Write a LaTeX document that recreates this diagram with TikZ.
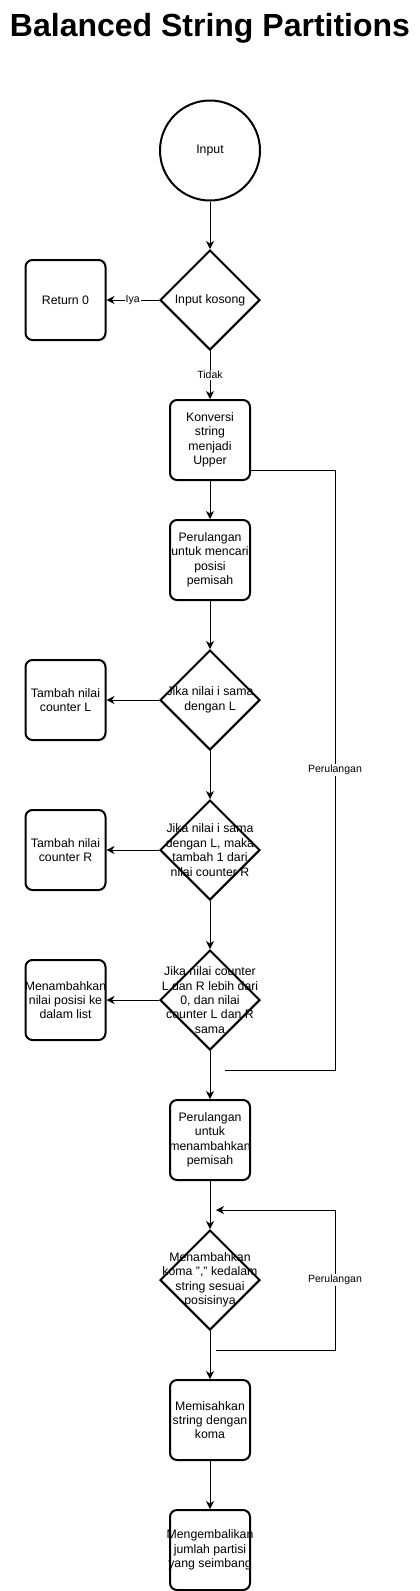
\documentclass[tikz,border=0pt]{standalone}
\usepackage{fontspec}
\setmainfont{Liberation Sans}
\usetikzlibrary{shapes.geometric,arrows.meta}
\begin{document}
\begin{tikzpicture}[x=1pt,y=-1pt,
  box/.style={draw, line width=2pt, rounded corners=7pt, minimum width=80pt, minimum height=80pt, inner sep=0pt},
  dec/.style={draw, diamond, line width=2pt, minimum width=100pt, minimum height=100pt, inner sep=0pt, aspect=1},
  term/.style={draw, circle, line width=2pt, minimum size=100pt, inner sep=0pt, font=\fontsize{12.3}{14.4}\selectfont},
  txt/.style={font=\fontsize{12.3}{14.4}\selectfont, align=center, inner sep=0pt},
  arr/.style={-{Stealth[length=8pt,width=8pt,inset=2.5pt]}, line width=1pt},
  lnk/.style={line width=1pt},
  lbl/.style={fill=white, font=\fontsize{10.5}{12}\selectfont, inner sep=1pt}
]
\useasboundingbox (0,0) rectangle (420,1591);

\node[anchor=base, font=\fontsize{32}{38}\selectfont\bfseries] (title) at (210,36) {Balanced String Partitions};

\node[term] (inp) at (210,150.5) {Input};
\node[dec, label={[txt]center:{Input kosong}}] (d1) at (210,300) {};
\node[box, label={[txt]center:{Return 0}}] (ret) at (65.5,300) {};
\node[box, label={[txt]center:{Konversi\\string\\menjadi\\Upper}}] (konv) at (210,440) {};
\node[box, label={[txt]center:{Perulangan\\untuk mencari\\posisi\\pemisah}}] (cari) at (210,560) {};
\node[dec, label={[txt]center:{Jika nilai i sama\\dengan L}}] (d2) at (210,700) {};
\node[box, label={[txt]center:{Tambah nilai\\counter L}}] (cL) at (65.5,700) {};
\node[dec, label={[txt]center:{Jika nilai i sama\\dengan L, maka\\tambah 1 dari\\nilai counter R}}] (d3) at (210,850) {};
\node[box, label={[txt]center:{Tambah nilai\\counter R}}] (cR) at (65.5,850) {};
\node[dec, label={[txt]center:{Jika nilai counter\\L dan R lebih dari\\0, dan nilai\\counter L dan R\\sama}}] (d4) at (210,1000) {};
\node[box, label={[txt]center:{Menambahkan\\nilai posisi ke\\dalam list}}] (list) at (65.5,1000) {};
\node[box, label={[txt]center:{Perulangan\\untuk\\menambahkan\\pemisah}}] (pem) at (210,1140) {};
\node[dec, label={[txt]center:{Menambahkan\\koma "," kedalam\\string sesuai\\posisinya}}] (d5) at (210,1280) {};
\node[box, label={[txt]center:{Memisahkan\\string dengan\\koma}}] (pisah) at (210,1420) {};
\node[box, label={[txt]center:{Mengembalikan\\jumlah partisi\\yang seimbang}}] (kembali) at (210,1550) {};

\draw[arr] (inp) -- (d1);
\draw[arr] (d1) -- node[lbl]{Iya} (ret);
\draw[arr] (d1) -- node[lbl]{Tidak} (konv);
\draw[arr] (konv) -- (cari);
\draw[arr] (cari) -- (d2);
\draw[arr] (d2) -- (cL);
\draw[arr] (d2) -- (d3);
\draw[arr] (d3) -- (cR);
\draw[arr] (d3) -- (d4);
\draw[arr] (d4) -- (list);
\draw[arr] (d4) -- (pem);
\draw[arr] (pem) -- (d5);
\draw[arr] (d5) -- (pisah);
\draw[arr] (pisah) -- (kembali);

\coordinate (l1a) at (335,470.5);
\coordinate (l1b) at (335,1070);
\coordinate (l1e) at (225,1070);
\draw[lnk] (konv.east |- l1a) -- (l1a) -- node[lbl]{Perulangan} (l1b) -- (l1e);

\coordinate (l2s) at (216,1350);
\coordinate (l2a) at (335,1350);
\coordinate (l2b) at (335,1210);
\coordinate (l2e) at (216,1210);
\draw[arr] (l2s) -- (l2a) -- node[lbl]{Perulangan} (l2b) -- (l2e);
\end{tikzpicture}
\end{document}
